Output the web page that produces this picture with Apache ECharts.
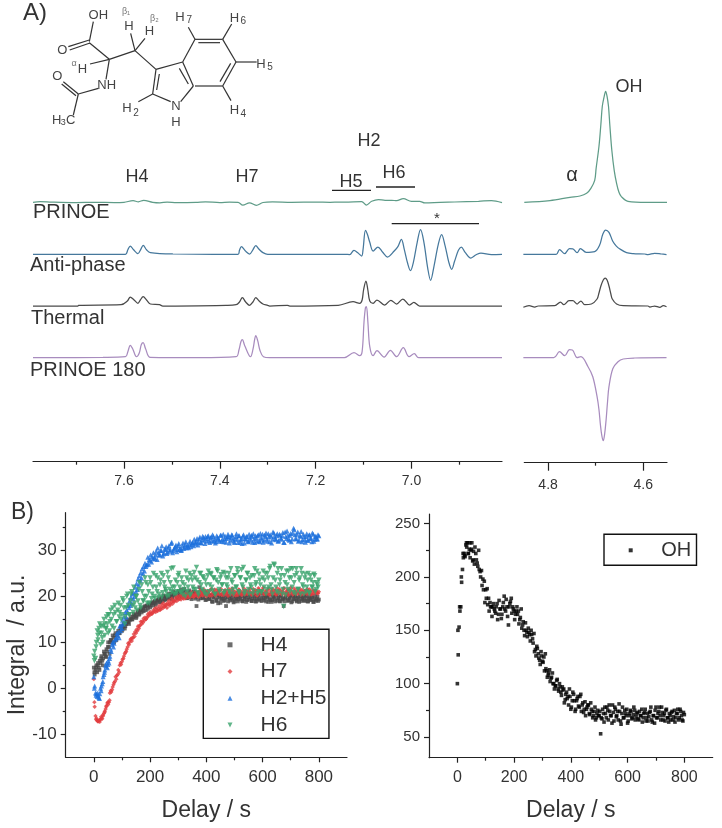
<!DOCTYPE html>
<html><head><meta charset="utf-8">
<style>html,body{margin:0;padding:0;background:#fff}#c{width:722px;height:828px}</style>
<script src="https://cdn.jsdelivr.net/npm/echarts@6/dist/echarts.min.js"></script>
</head><body><div id="c"></div>
<script>
// ---------- Panel A: spectra, [ppm, height above trace baseline] ----------
const traceNames = ['PRINOE','Anti-phase','Thermal','PRINOE 180'];
const traceColors = ['#5f9c88','#46789c','#4a4a4a','#a88cbe'];
const traceBaselines = [259.4,207.4,155.7,104];

const aromaticPrinoe = [[7.79,0],[7.775,0.8],[7.75,0.2],[7.7,-0.3],[7.66,0],[7.62,-0.3],[7.6,0],[7.581,1.6],[7.57,0.5],[7.559,2],[7.54,0],[7.525,-0.5],[7.51,0.2],[7.49,-0.2],[7.45,0],[7.43,0.5],[7.4,-0.2],[7.38,0.2],[7.362,0],[7.352,-2.8],[7.338,-0.5],[7.324,-3],[7.31,-0.2],[7.29,0.4],[7.25,0],[7.2,0.2],[7.17,0],[7.15,0.3],[7.139,0.2],[7.104,0.8],[7.094,-2.7],[7.083,1],[7.069,2.7],[7.055,2],[7.041,2],[7.031,1.6],[7.017,3.7],[7,1],[6.983,1],[6.972,-0.6],[6.94,0],[6.91,0.3],[6.86,1],[6.833,1.7],[6.811,-0.3]];
const aromaticAnti = [[7.79,0],[7.597,0],[7.592,4.5],[7.587,8.3],[7.58,4.5],[7.571,0.7],[7.565,5],[7.56,9],[7.553,4.5],[7.545,1.7],[7.498,0.3],[7.362,0],[7.359,4],[7.355,7.7],[7.347,3.5],[7.338,0.3],[7.331,4.5],[7.325,8.7],[7.318,5],[7.31,1.7],[7.3,0],[7.139,0],[7.129,-0.3],[7.12,4],[7.112,1.5],[7.104,-1.7],[7.101,5],[7.096,24],[7.092,20],[7.087,12],[7.08,3.3],[7.07,7.3],[7.06,2],[7.05,-2.7],[7.036,3.3],[7.028,8],[7.021,15],[7.015,5],[7.008,-9],[7.002,-16.3],[6.996,-8],[6.988,12],[6.981,24.7],[6.974,12],[6.966,-14],[6.96,-26],[6.953,-12],[6.944,10],[6.937,19.7],[6.93,9],[6.922,-8],[6.916,-15],[6.91,-7],[6.902,4],[6.896,7.3],[6.888,2],[6.876,-3.7],[6.865,-0.5],[6.855,1.3],[6.833,-0.3],[6.811,0]];
const aromaticThermal = [[7.79,0],[7.696,0],[7.695,0.7],[7.606,1.3],[7.593,5],[7.587,9],[7.579,6],[7.571,2.7],[7.566,6],[7.56,9.3],[7.553,6],[7.545,2],[7.526,1.3],[7.519,0],[7.387,0.7],[7.366,1.3],[7.359,4],[7.353,8.3],[7.346,4],[7.338,0.7],[7.331,4],[7.325,8.3],[7.318,5],[7.31,2],[7.3,0.7],[7.296,0],[7.259,0.7],[7.254,0],[7.153,0.7],[7.122,4.3],[7.108,2.7],[7.103,6],[7.1,16],[7.095,25],[7.091,16],[7.087,5],[7.08,2.7],[7.072,6],[7.056,1],[7.043,5.7],[7.031,2],[7.018,7],[7.004,1],[6.995,3.7],[6.983,0],[6.811,0]];
const aromaticPrinoe180 = [[7.79,0],[7.644,0.3],[7.597,1],[7.592,6],[7.587,12.3],[7.582,9],[7.574,1],[7.568,5],[7.564,13],[7.56,15],[7.555,9],[7.545,0.3],[7.443,0],[7.366,1],[7.36,8],[7.356,16],[7.353,18],[7.348,12],[7.336,1],[7.331,8],[7.327,19],[7.325,22],[7.321,17],[7.316,7],[7.309,1],[7.296,0],[7.14,0],[7.12,5],[7.108,2],[7.103,6],[7.099,36],[7.096,50],[7.094,51],[7.091,36],[7.087,11],[7.08,2],[7.072,7],[7.057,0.7],[7.044,7.3],[7.031,1],[7.017,10],[7.005,1],[6.994,4],[6.985,0],[6.811,0]];
const alcoholPrinoe = [[4.85,0],[4.796,1.7],[4.754,5],[4.733,6.3],[4.719,9],[4.71,14],[4.702,22],[4.699,34],[4.693,56],[4.689,78],[4.686,96],[4.682,106],[4.679,111],[4.676,106],[4.673,96],[4.67,76],[4.666,52],[4.661,32],[4.656,19],[4.651,10],[4.646,5.7],[4.632,1],[4.593,0],[4.55,0]];
const alcoholAnti = [[4.852,0],[4.783,0],[4.776,4.7],[4.765,0.7],[4.755,5.7],[4.748,5.5],[4.739,1.7],[4.732,5.7],[4.72,2],[4.702,2.7],[4.692,8.7],[4.685,20],[4.679,24.3],[4.672,22],[4.664,13],[4.657,8.5],[4.649,5.3],[4.635,1.7],[4.621,0.7],[4.597,0.3],[4.59,-0.3],[4.576,1],[4.562,0.3],[4.551,-0.3]];
const alcoholThermal = [[4.852,-1.3],[4.84,0.3],[4.828,-1],[4.821,0],[4.786,0.3],[4.774,4],[4.767,1.3],[4.756,5.3],[4.748,5.3],[4.739,2],[4.731,5],[4.723,1.3],[4.709,2],[4.697,7],[4.693,13],[4.689,20],[4.684,26],[4.68,28],[4.676,26],[4.672,20],[4.668,12],[4.665,7],[4.656,2],[4.642,0.3],[4.59,0],[4.586,-1],[4.576,0],[4.565,-1.3],[4.558,0.3],[4.551,-0.7]];
const alcoholPrinoe180 = [[4.852,0],[4.788,0],[4.776,6],[4.765,2],[4.755,8],[4.749,7.7],[4.739,0],[4.731,1],[4.716,-9],[4.706,-19],[4.697,-39],[4.693,-52],[4.69,-67],[4.687,-78],[4.684,-83],[4.681,-76],[4.678,-62],[4.675,-44],[4.672,-29],[4.664,-11],[4.653,-4],[4.642,-1.3],[4.618,-0.3],[4.551,0]];

const aromaticTraces = [aromaticPrinoe,aromaticAnti,aromaticThermal,aromaticPrinoe180];
const alcoholTraces = [alcoholPrinoe,alcoholAnti,alcoholThermal,alcoholPrinoe180];

const ppmMajorA = [7.6,7.4,7.2,7.0];
const ppmMinorA = [7.7,7.5,7.3,7.1,6.9];
const ppmMajorB = [4.8,4.6];
const ppmMinorB = [4.7];

// ---------- Panel B: delay curves ----------
const delays = [0,3,6,9,12,15,18,21,24,27,30,33,36,39,42,45,48,51,54,57,60,
65,70,75,80,85,90,95,100,105,110,115,120,125,130,135,140,145,150,155,160,
165,170,175,180,185,190,195,200,205,210,215,220,225,230,235,240,245,250,255,260,
265,270,275,280,285,290,295,300,305,310,315,320,325,330,335,340,345,350,355,360,
365,370,375,380,385,390,395,400,405,410,415,420,425,430,435,440,445,450,455,460,
465,470,475,480,485,490,495,500,505,510,515,520,525,530,535,540,545,550,555,560,
565,570,575,580,585,590,595,600,605,610,615,620,625,630,635,640,645,650,655,660,
665,670,675,680,685,690,695,700,705,710,715,720,725,730,735,740,745,750,755,760,
765,770,775,780,785,790,795,800];
const H4 = [4.5,3,4,5,3.5,5.5,4.5,6,5.5,7,6,6.5,8,7.5,7,8.5,8,10,9,10,10.5,
10,11,11.5,10.5,12,12,13,12.5,13.5,13,
14,14.5,14,15,15,15.5,15.8,15.3,16.5,16,
17,16.5,17.5,17.8,17,18,18.2,17.6,18.5,18.5,
18.8,18.2,19,19.3,18.7,19.5,19,20,19.4,19.8,
20.3,19.6,20.5,19.8,20.4,20.8,19.9,21,20.2,21.5,
20.5,20,21,19.7,20.6,21.3,19.8,20.3,21,19.5,
17.9,20.4,22,19.6,20.5,19.8,21,19.3,20.6,19.4,
20.2,18.9,19.7,20.5,19,19.8,20.3,18.6,19.5,20,
19.2,17.9,19.8,20.2,19.1,19.6,20.4,18.9,19.5,20,
19.3,19.9,20.6,18.9,19.4,20.1,19.2,19.8,20.5,19,
19.6,20.2,18.9,19.5,20.3,19.1,19.8,20.6,19.2,19.7,
20.1,18.8,19.5,20.4,19.2,19.9,18.9,20.3,19.6,19,
20,19.3,17.9,19.6,20.4,19,19.8,20.2,18.9,19.5,
20.2,19.1,19.7,18.8,20,19.4,19.9,19,20.3,18.9,
19.6,19.2,20.1,18.8,19.5,19.1,19.9,19.3];
const H7 = [2,-4,-6,-6.5,-7,-7.2,-7,-7.3,-6.8,-6.5,-6.6,-6,-5.5,-5,-4.5,-3.8,-3.2,-3.5,-3,-1,-0.5,
-0.3,0.8,1.5,2,3,3.5,5.5,5.8,6.5,7.5,
8,9,9.5,10.5,10.3,11,11.3,12,12.5,13,
13.8,14,14.3,14.8,15,15.5,15.8,16,16.2,16.5,
16.7,16.6,17,17.3,17,17.6,17.4,17.8,18,17.5,
18.2,18,18.7,18.4,19,19.3,19,19.6,19.5,19.3,
19.9,19.5,20,20.3,19.8,20.1,20.5,20,19.9,20.4,
20.2,20.6,20,20.8,20.3,21,20.4,20,21.2,20.6,
21.4,20.2,20.9,21.5,20.4,21,20.6,21.3,20.3,20.8,
21.2,20.5,21,21.6,20.4,20.9,21.3,20.6,20.2,21,
21.5,20.7,20.3,21.2,20.8,21.4,20.5,21,21.7,20.4,
21,20.6,21.3,20.2,21.8,20.7,21.1,21.5,20.5,21,
20.8,21.4,20.3,21,21.6,20.6,21.2,20.4,21,21.5,
20.6,21.1,21.8,20.4,21,21.5,20.7,21.9,20.9,20.5,
21.3,20.8,21.6,20.6,21,21.4,20.5,21.2,20.9,21.6,
20.6,21.1,20.5,21.4,20.9,21.2,20.7,21];
const H2H5 = [2.5,0.5,-1,-1.2,-1.8,-1.5,-2,-1.2,0,0.5,1,2.5,3,4,5,5.5,4.5,6,5.5,7,8.5,
9.5,9,10.5,11,11.5,11,12.5,13,14,14.5,
15.5,16.5,17.5,18,18.5,19.5,20,21,21.5,22.5,
23.5,24,25,25.5,26.5,27,27,27.8,27.5,28.2,
28.5,29,28,29.5,29,30,28.8,29.5,30.2,29.3,
30.5,29.8,31.5,29.5,30.3,30.8,29.7,31,30.2,30,
31,30.4,31.3,30.6,30.9,31.4,30.8,31.6,31,31.8,
32,31.2,32.5,31.7,32.3,32.8,31.5,32.6,33,32.2,
32.7,32,33,32.4,31.9,32.8,32.3,33.3,32,33.5,
32.5,31.8,32.9,33,32.2,33.4,32.5,31.7,33,32.4,
33.2,31.8,32.6,33.1,31.6,32.4,33,31.9,32.7,33.3,
31.8,32.5,33.2,32,33.4,31.9,32.8,33.5,32.2,33,
32.5,33.6,31.9,33.1,32.4,33.8,32.6,33.2,32,33.5,
32.7,33.2,31.8,34,32.6,33.3,32.2,33.7,32.5,34.8,
33.4,32.5,34,32.2,33.1,31.9,33.5,32.4,33,32.2,
33.3,32.6,31.9,33.5,32.4,33,32.5,33.2];
const H6 = [7,8,6.5,10,12.5,10.5,13,14,9.5,12,11,13.5,15,11.5,13,15.5,14,12,16,14.5,17,
13.5,16,18,14.5,17,15.5,18,16,19,14,
17.5,20.5,16,19,21,16.5,18.5,20,17,21.5,
18,22.5,19,20,23,18.5,21,24,19.5,22,
20,24.5,21,19.8,22.5,25,20.8,23,21.5,20,
24,21.5,26,22,20.5,23.5,21,24.5,22,20.8,
23,21.5,20,24,22,25,20.5,23.5,21.5,24,
26.3,20.8,23,25,21.5,24,20.5,22.5,24.5,21,
25,22,24,20.5,23.5,25.5,21.5,24,22.5,25.2,
21,24,22,25,20.5,23.5,21.5,24.5,22,26,
21,24,25.8,22,20.5,23.5,25,21.5,24,22,
20.5,24.5,22.5,25.5,21,23.5,20.8,24,22,25,
21.5,24,26,22.5,20.5,27,23.5,21,26,22.5,
24.5,20.5,17.8,23,25.5,21.5,24,26,22,20.8,
24.5,26,21.5,23.5,20.5,25,22,24,21,23.5,
20.8,24.5,22,23,24.5,21.5,22.5,23.5];
const OH = [100,127,153,168,172,195,207,218,222,219,230,228,232,222,226,218,225,232,215,224,212,
222,213,225,205,206,198,196,188,189,180,
176,172,172,170,166,175,165,170,161,172,
182,168,172,155,175,180,172,168,165,172,
168,160,170,155,150,157,148,152,146,150,
142,147,132,135,128,122,130,121,125,128,
112,108,113,105,110,100,98,103,95,100,
92,97,95,85,92,88,95,76,84,90,
74,84,88,78,90,80,73,83,76,80,
72,82,74,70,78,68,75,70,53,67,
72,78,68,75,80,70,63,73,78,69,
74,81,65,72,68,75,70,63,72,75,
67,71,75,69,73,66,70,76,68,73,
65,72,69,74,66,70,63,78,68,74,
70,78,66,72,75,68,64,70,73,66,
75,68,72,66,76,70,65,71];
// Second set of readings, between the first set's delays
const delaysB = [2,8,14,20,26,32,38,44,50,56,
62,67,72,77,82,87,92,97,102,107,112,117,122,127,132,137,142,147,152,157,
162,167,172,177,182,187,192,197,202,207,212,217,222,227,232,237,242,247,252,257,
262,267,272,277,282,287,292,297,302,307,312,317,322,327,332,337,342,347,352,357,
362,367,372,377,382,387,392,397,402,407,412,417,422,427,432,437,442,447,452,457,
462,467,472,477,482,487,492,497,502,507,512,517,522,527,532,537,542,547,552,557,
562,567,572,577,582,587,592,597,602,607,612,617,622,627,632,637,642,647,652,657,
662,667,672,677,682,687,692,697,702,707,712,717,722,727,732,737,742,747,752,757,
762,767,772,777,782,787,792,797];
const H4b = [3.5,4.5,5,4,6.5,5,7.5,6.8,9,7.5,
10.5,11.5,10,12,11.5,12.5,12,13.5,12.8,14,13.5,15,14.3,14.8,15.6,15,16.2,16,15.6,16.8,
16.2,17.3,17,16.8,17.8,18,17.3,18.3,18,18.7,18,19,18.6,19.2,19.6,18.8,19.7,20.2,19.2,20,
19.5,20.6,20,19.4,21,20.3,20.7,19.6,21.2,20.4,19.8,20.8,21.6,20.2,19.6,20.9,20.3,19.4,20.7,21,
19.9,20.8,19.3,20.1,21.3,19.6,20.4,19.2,20.7,20,19.5,20.3,18.8,19.9,20.6,19.2,18.5,20,19.4,20.4,
19,19.7,20.5,18.9,19.6,20.2,19.3,18.7,20,19.5,18.9,20.3,19.5,19,20.1,19.7,18.8,20.4,19.3,19.9,
19,20.5,19.5,18.9,20.1,19.4,20.7,19,19.6,20.2,18.9,19.7,20.4,19.2,18.8,20,19.5,20.5,19.1,19.8,
18.9,20.3,19.5,18.9,19.8,20.6,19.2,19.6,18.7,20.2,19.4,20,18.9,19.6,20.5,19,19.7,19.2,20.1,19.5,
18.9,20,19.3,19.7,18.8,20.2,19.4,19];
const H7b = [-3,-6.8,-7.1,-6.9,-6.2,-5.8,-5.2,-4,-3,-2.6,
-0.8,0.3,1.2,2.5,2.8,4,5,5.2,6.3,7,7.8,8.5,9.8,10,10.8,11,11.8,12.3,12.8,13.5,
13.5,14.5,14.6,15.2,15.4,15.2,16.1,16.4,16.6,16.2,17,17.3,17.5,16.8,17.9,17.2,18.2,18.5,17.8,18.3,
18.5,19,18.4,19.5,19,18.9,19.8,20,19.3,20.2,20.3,19.7,20.5,19.6,20.7,20.2,19.8,20.9,20.4,20,
21,20.5,19.9,21.3,20.6,20.2,21.5,20.7,20.3,21,20.1,21.6,20.7,21,20.2,21.4,20.9,20.4,21.6,20.6,
20.3,21.4,20.8,20.1,21.2,20.6,21.7,20.3,21,20.7,20.3,21.4,20.9,20.5,21.8,20.4,21.1,20.6,21.3,20.8,
20.4,21.6,20.9,21.2,20.3,21.5,20.6,20.9,21.9,20.5,21.2,20.6,21.7,20.5,21.1,20.8,21.3,20.4,21.8,20.7,
21.3,20.5,21,21.7,20.6,21.2,20.3,21.5,21,20.4,21.7,20.9,20.5,21.2,21.6,20.4,21,20.7,21.3,20.5,
21.1,21.5,20.4,21,20.6,21.3,20.9,20.6];
const H2H5b = [0,-1.5,-1,-2.2,-0.5,1.5,3.5,4.8,5.2,6.5,
8,10,9.8,10.8,12,12.2,13.5,13.8,14.8,15.5,16.5,17,18,19,19.8,20.5,20.8,22,22.8,23.8,
24.5,25.2,26,26.5,27.2,26.8,28.5,28,29,28.6,29.5,28.2,29.8,30.5,29,30,31,29.2,30.3,30.8,
29.6,31,30.2,31.8,29.9,30.6,31.2,30.2,31.5,30.5,30.1,31.6,30.7,31.9,31.1,30.6,32,31.3,31.7,32.4,
31.4,32.6,31.8,32.9,31.6,33.1,32.2,33,32,33.2,31.7,32.9,33.4,32.1,31.6,33.2,32.6,32,33.3,32.4,
31.9,33.1,32.6,33.5,31.6,32.8,33.3,32,32.5,33.6,31.7,33.2,32.3,31.5,33.4,32.6,33,32,33.5,32.2,
33,33.6,31.7,32.7,33.2,32.1,33.7,32.4,31.8,33.3,33.8,32,32.9,33.4,31.6,34,33,32.3,33.6,32.1,
33.3,32.4,33.9,31.7,33,34.2,32.4,33.3,31.9,33.8,34.5,32.6,33.5,32,33.2,34.1,32.3,33,31.8,33.6,
32.2,33.4,32.7,33.8,32,33.1,32.5,33.4];
const H6b = [6,9,11.5,12,13.5,10,14,13,16,12.5,
15,17.5,13,16.5,14.5,18.5,16.5,15,19.5,17.5,15.5,20,18,16,20.5,18,22,17.5,20,19,
23,17.5,21,19,24,20,22.5,18.5,23,20.5,25,19.5,22,24,20.5,23.5,19.8,24.5,22,21,
25.2,20.2,23,21,26.2,22,20.5,23,25,21,24,20.3,22.5,25.5,21,23.5,20.2,24.5,22,25.2,
21.5,23.5,20.3,25,22.5,24.3,21,23.5,20.3,25.5,22.5,24.8,21.2,24,20.4,25.8,23,21,24.7,22.5,
20.6,25,22.5,24,21,26,23,20.5,24.5,22,25.2,20.7,24,22.5,26.3,21,23.5,25,20.5,22.5,
24.5,21.2,26,23,20.6,24.8,22.5,21,25.5,23.5,20.5,25,22,26.5,21.5,24,26.8,22,25,20.7,
23.5,26,21.5,24.5,20.3,22.5,25.5,21,24,26,23,20.5,25,21.5,24,26,22.5,20.5,24.8,22,
25,20.6,23.5,22,24.8,21,23,22];
const OHb = [150,172,200,222,220,232,222,232,226,216,
228,216,210,207,200,192,188,176,180,174,168,172,163,175,168,172,160,178,170,165,
176,170,179,163,172,177,166,170,160,168,165,156,162,152,158,145,150,144,148,140,
146,138,130,126,133,124,118,126,120,112,114,106,110,102,106,100,95,98,104,93,
97,89,94,82,90,86,80,88,78,92,84,76,86,79,88,74,82,76,70,78,
80,71,76,68,74,66,72,70,74,68,76,64,72,78,66,74,70,80,65,76,
70,66,74,62,78,68,72,76,65,70,74,68,78,66,72,67,74,70,64,72,
76,68,65,73,78,64,70,75,68,72,78,66,73,70,65,76,68,72,66,74,
69,64,72,76,68,74,66,73];
const delayMajor = [0,200,400,600,800];
const delayMinor = [100,300,500,700];
const integralMajor = [-10,0,10,20,30];
const integralMinor = [-5,5,15,25,35];
const ohMajor = [50,100,150,200,250];
const ohMinor = [75,125,175,225];
const curveSeries = [
  {name:'H4',  values:H4,  valuesB:H4b,  color:'#484848', symbol:'rect', size:3.8, icon:'rect'},
  {name:'H7',  values:H7,  valuesB:H7b,  color:'#e23c3f', symbol:'diamond', size:4.4, icon:'diamond'},
  {name:'H2+H5',values:H2H5,valuesB:H2H5b,color:'#1c6fdc', symbol:'triangle', size:5, icon:'triangle'},
  {name:'H6',  values:H6,  valuesB:H6b,  color:'#38a36c', symbol:'triangle', rotate:180, size:5.4, icon:'path://M0 0H10L5 10Z'}
];

// ---------- Molecule drawing (source-sketch coordinates, scaled by 1/3) ----------
const bonds = [[268,125,280,65],[268,120,205,140],[270,129,209,150],[268,128,328,178],[328,178,405,152],[405,152,392,100],[405,152,435,115],[405,152,468,208],[328,178,270,192],[328,178,318,238],[295,265,235,282],[235,282,190,245],[228,287,185,252],[235,282,220,345],
[468,208,458,282],[478,222,470,270],[458,282,512,305],[542,305,580,258],[580,258,548,186],[565,252,538,205],[468,208,548,186],[548,186,585,118],[585,118,668,118],[595,128,660,128],[668,118,708,186],[708,186,668,258],[692,190,660,245],[668,258,585,258],[585,118,565,82],[668,118,695,72],[708,186,770,186],[668,258,693,302],[458,282,415,305]];
const atoms = [['OH',295,45,13],['O',187,152,13],['H',387,78,13],['H',448,93,13],['H',247,207,13],['NH',320,257,13],['O',172,228,13],['H',170,360,13],['3',190,367,9],['C',212,360,13],['N',528,318,13],['H',528,368,13],['H',540,52,13],['7',568,62,10],['H',703,55,13],['6',730,65,10],['H',783,193,13],['5',810,203,10],['H',703,332,13],['4',730,342,10],['H',381,325,13],['2',408,340,10]];
const smallAtoms = [['β₁',378,35],['β₂',463,55],['α',222,190]];

const FONT = '"Liberation Sans", Arial, sans-serif';
const INK = '#333';
const chart = echarts.init(document.getElementById('c'));
const txt = (text,x,y,size,align='center',fill=INK)=>({type:'text',z:20,style:{text,x,y,font:`${size}px ${FONT}`,fill,textAlign:align,textVerticalAlign:'middle'}});
const hline = (x1,x2,y)=>({type:'line',z:20,shape:{x1,y1:y,x2,y2:y},style:{stroke:'#222',lineWidth:1.3}});
const graphics = [
  txt('A)',23,13,24,'left'), txt('B)',11,513,23,'left'),
  txt('H4',137,177,18), txt('H7',247,177,18), txt('H2',369,141,18),
  txt('H5',351,182,18), txt('H6',394,173,18), hline(332,371,190.3), hline(376,415,187),
  hline(391.7,479,223.7), txt('*',437,219,15),
  txt('α',572,175,20), txt('OH',629,87,18),
  txt('PRINOE',33,212,20,'left'), txt('Anti-phase',30,265,20,'left'),
  txt('Thermal',31,318,20,'left'), txt('PRINOE 180',30,370,20,'left'),
  {type:'text',z:20,x:18,y:645,rotation:Math.PI/2,style:{text:'Integral  / a.u.',x:0,y:0,font:`23px ${FONT}`,fill:INK,textAlign:'center',textVerticalAlign:'middle'}}
];
bonds.forEach(b=>graphics.push({type:'line',z:20,shape:{x1:b[0]/3,y1:b[1]/3,x2:b[2]/3,y2:b[3]/3},style:{stroke:'#333',lineWidth:1.2}}));
atoms.forEach(a=>graphics.push(txt(a[0],a[1]/3,a[2]/3,a[3],'center','#444')));
smallAtoms.forEach(a=>graphics.push(txt(a[0],a[1]/3,a[2]/3,9,'center','#777')));

const grids = [
  {left:33,top:70,width:469,height:391.7},
  {left:524.3,top:70,width:142.7,height:392.7},
  {left:65.7,top:512.7,width:281.3,height:244.6},
  {left:429,top:514,width:283.7,height:243.7}
];
const axLine = {lineStyle:{color:'#222',width:1.2}};
const tick = (values,length)=>({show:true,customValues:values,length,inside:false,lineStyle:{color:'#222',width:1.2}});
const xMajor = (gridIndex,min,max,values,inverse,fontSize,extra={})=>({type:'value',gridIndex,min,max,inverse,position:'bottom',
  axisLine:{show:true,onZero:false,...axLine},axisTick:tick(values,extra.tickLen||6),splitLine:{show:false},
  axisLabel:{show:true,customValues:values,fontFamily:FONT,fontSize,color:INK,margin:extra.margin||8,showMinLabel:true,showMaxLabel:true,formatter:extra.fmt},...(extra.axis||{})});
const xMinor = (gridIndex,min,max,values,inverse)=>({type:'value',gridIndex,min,max,inverse,position:'bottom',
  axisLine:{show:false,onZero:false},axisTick:tick(values,3),axisLabel:{show:false},splitLine:{show:false}});
const yHidden = (gridIndex,min)=>({type:'value',gridIndex,min,max:391.7,show:false});
const yMajor = (gridIndex,min,max,values,fontSize,extra={})=>({type:'value',gridIndex,min,max,position:'left',
  axisLine:{show:true,onZero:false,...axLine},axisTick:tick(values,5),splitLine:{show:false},
  axisLabel:{show:true,customValues:values,fontFamily:FONT,fontSize,color:INK,margin:extra.margin||9},...(extra.axis||{})});
const yMinor = (gridIndex,min,max,values)=>({type:'value',gridIndex,min,max,position:'left',
  axisLine:{show:false,onZero:false},axisTick:tick(values,3),axisLabel:{show:false},splitLine:{show:false}});
const delayName = {name:'Delay / s',nameLocation:'middle',nameGap:53,nameTextStyle:{fontFamily:FONT,fontSize:23,color:INK,verticalAlign:'middle'}};
const oneDecimal = v=>Number(v).toFixed(1);

const xAxes = [
  xMajor(0,6.811,7.79,ppmMajorA,true,14,{tickLen:7,margin:12,fmt:oneDecimal}), xMinor(0,6.811,7.79,ppmMinorA,true),
  xMajor(1,4.55,4.85,ppmMajorB,true,14,{tickLen:8,margin:15,fmt:oneDecimal}), xMinor(1,4.55,4.85,ppmMinorB,true),
  xMajor(2,-100,900,delayMajor,false,17,{tickLen:5,margin:12,axis:delayName}), xMinor(2,-100,900,delayMinor,false),
  xMajor(3,-100,900,delayMajor,false,16,{tickLen:5,margin:12,axis:delayName}), xMinor(3,-100,900,delayMinor,false)
];
const yAxes = [
  yHidden(0,0), yHidden(1,-1),
  yMajor(2,-15,38.2,integralMajor,17,{margin:9}),
  yMinor(2,-15,38.2,integralMinor),
  yMajor(3,30.6,259,ohMajor,15,{margin:9}), yMinor(3,30.6,259,ohMinor)
];
const series = [];
[[aromaticTraces,0,0],[alcoholTraces,2,1]].forEach(([traces,xi,yi])=>{
  traces.forEach((t,i)=>series.push({type:'line',name:traceNames[i],xAxisIndex:xi,yAxisIndex:yi,
    data:t.map(p=>[p[0],traceBaselines[i]+p[1]]),showSymbol:false,symbol:'none',smooth:0.35,
    lineStyle:{color:traceColors[i],width:1.25},silent:true,animation:false}));
});
curveSeries.forEach(s=>series.push({type:'scatter',name:s.name,xAxisIndex:4,yAxisIndex:2,
  data:delays.map((d,i)=>[d,s.values[i]]).concat(delaysB.map((d,i)=>[d,s.valuesB[i]])),
  symbol:s.symbol,symbolRotate:s.rotate||0,symbolSize:s.size,itemStyle:{color:s.color},animation:false,large:false}));
series.push({type:'scatter',name:'OH',xAxisIndex:6,yAxisIndex:4,
  data:delays.map((d,i)=>[d,OH[i]]).concat(delaysB.map((d,i)=>[d,OHb[i]])),
  symbol:'rect',symbolSize:3.6,itemStyle:{color:'#000'},animation:false});

chart.setOption({
  animation:false, backgroundColor:'#fff', textStyle:{fontFamily:FONT},
  grid:grids, xAxis:xAxes, yAxis:yAxes, series, graphic:graphics,
  legend:[
    {data:curveSeries.map(s=>({name:s.name,icon:s.icon})),orient:'vertical',left:203.3,top:629.3,align:'left',itemWidth:5,itemHeight:5,itemGap:5.7,padding:[5,2.5,3,24.2],
     backgroundColor:'#fff',borderColor:'#111',borderWidth:1.4,textStyle:{fontFamily:FONT,fontSize:21,color:INK,padding:[0,0,0,23]},selectedMode:false},
    {data:[{name:'OH',icon:'rect'}],orient:'vertical',left:604,top:534.3,align:'left',itemWidth:4,itemHeight:4,padding:[6,5.3,5,24.7],
     backgroundColor:'#fff',borderColor:'#111',borderWidth:1.4,textStyle:{fontFamily:FONT,fontSize:20,color:INK,padding:[0,0,0,23.5]},selectedMode:false}
  ]
});
</script></body></html>
